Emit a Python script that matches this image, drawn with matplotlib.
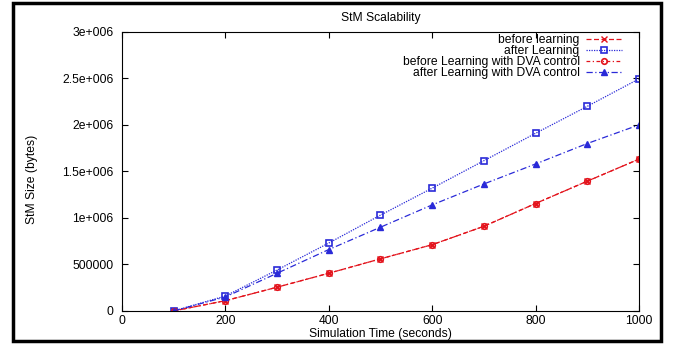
import matplotlib.pyplot as plt
import matplotlib.patches as patches
from matplotlib.ticker import FixedLocator

plt.rcParams['font.family'] = ['Liberation Sans', 'DejaVu Sans']

time_s = [100, 200, 300, 400, 500, 600, 700, 800, 900, 1000]
before = [0, 110000, 255000, 405000, 560000, 712000, 910000, 1155000, 1395000, 1632000]
after = [0, 160000, 440000, 730000, 1030000, 1320000, 1615000, 1910000, 2200000, 2495000]
before_dva = [0, 110000, 255000, 405000, 560000, 712000, 910000, 1155000, 1395000, 1632000]
after_dva = [0, 150000, 405000, 660000, 900000, 1140000, 1365000, 1580000, 1800000, 2000000]

xticks = [0, 200, 400, 600, 800, 1000]
yticks = [0, 500000, 1000000, 1500000, 2000000, 2500000, 3000000]
ytick_labels = ["0", "500000", "1e+006", "1.5e+006", "2e+006", "2.5e+006", "3e+006"]

RED = "#e3121b"
BLUE = "#2a2ad8"
FS = 8.7

fig = plt.figure(figsize=(6.74, 3.47), dpi=100)
fig.patches.append(patches.Rectangle((0.019, 0.016), 0.961, 0.974, transform=fig.transFigure,
                                     fill=False, edgecolor="black", linewidth=2.5))
ax = fig.add_axes([0.181, 0.104, 0.767, 0.804])

ax.plot(time_s, before, color=RED, linestyle=(0, (4, 2)), linewidth=0.9,
        marker="x", markersize=4, label="before learning")
ax.plot(time_s, after, color=BLUE, linestyle=(0, (1, 1)), linewidth=0.9,
        marker="s", markersize=4.5, markerfacecolor="none", markeredgewidth=1.2, label="after Learning")
ax.plot(time_s, before_dva, color=RED, linestyle=(0, (3, 2, 1, 2)), linewidth=0.9,
        marker="o", markersize=4, markerfacecolor="none", markeredgewidth=1.2,
        label="before Learning with DVA control")
ax.plot(time_s, after_dva, color=BLUE, linestyle=(0, (5, 2, 1, 2)), linewidth=0.9,
        marker="^", markersize=4.5, label="after Learning with DVA control")

ax.set_xlim(0, 1000)
ax.set_ylim(0, 3000000)
ax.xaxis.set_major_locator(FixedLocator(xticks))
ax.set_yticks(yticks)
ax.set_yticklabels(ytick_labels)
ax.tick_params(direction="in", top=True, right=True, labelsize=FS, length=4, width=0.8)
ax.tick_params(axis="y", pad=6)
ax.tick_params(axis="x", pad=3)
for s in ax.spines.values():
    s.set_linewidth(0.8)

ax.set_xlabel("Simulation Time (seconds)", fontsize=FS, labelpad=0.5)
ax.set_ylabel("StM Size (bytes)", fontsize=FS)
ax.yaxis.set_label_coords(-0.163, 0.47)
ax.set_title("StM Scalability", fontsize=FS, pad=8)

leg = ax.legend(loc="upper right", bbox_to_anchor=(1 - 17 / 517, 1 - 2 / 279),
                markerfirst=False, frameon=False, fontsize=FS, borderaxespad=0, borderpad=0,
                handlelength=3.0, labelspacing=-0.08, handletextpad=0.5)

fig.savefig("out.png", dpi=100)
